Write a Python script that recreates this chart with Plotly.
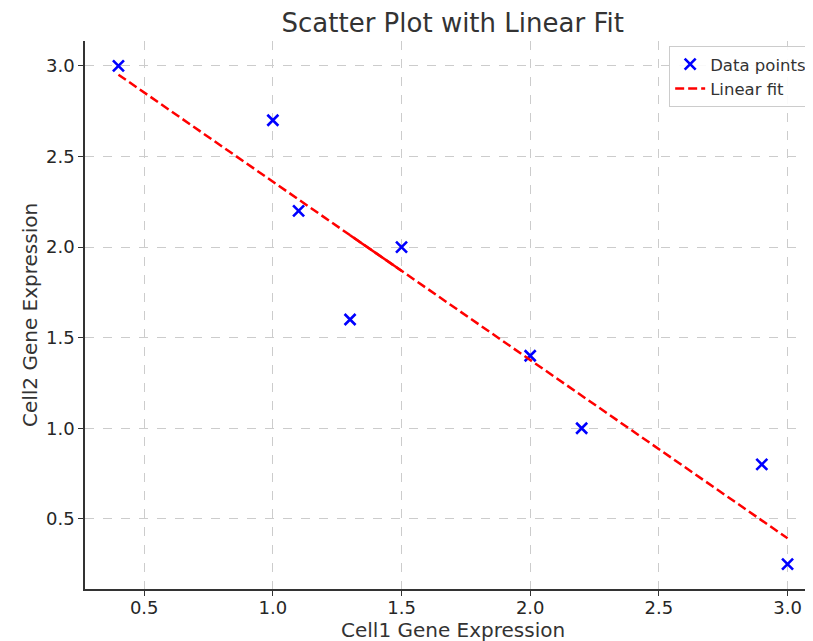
import numpy as np
import plotly.graph_objects as go

# Data (order as plotted)
cell1 = [0.4, 1.0, 1.1, 1.5, 1.3, 2.0, 2.2, 2.9, 3.0]
cell2 = [3.0, 2.7, 2.2, 2.0, 1.6, 1.4, 1.0, 0.8, 0.25]
x_ticks = [0.5, 1.0, 1.5, 2.0, 2.5, 3.0]
y_ticks = [0.5, 1.0, 1.5, 2.0, 2.5, 3.0]

slope, intercept = np.polyfit(cell1, cell2, 1)
fit_y = [slope * v + intercept for v in cell1]
# the back-tracked part of the fit path (between x=1.3 and 1.5) renders solid
overlap_x = [cell1[4], cell1[3]]
overlap_y = [slope * v + intercept for v in overlap_x]

fig = go.Figure()
fig.add_trace(go.Scatter(
    x=cell1, y=cell2, mode="markers", name="Data points",
    marker=dict(symbol="x-thin", size=11, color="blue",
                line=dict(color="blue", width=2.6)),
))
fig.add_trace(go.Scatter(
    x=cell1, y=fit_y, mode="lines", name="Linear fit",
    line=dict(color="red", width=2.5, dash="9px,4px"),
))
fig.add_trace(go.Scatter(
    x=overlap_x, y=overlap_y, mode="lines", showlegend=False, hoverinfo="skip",
    line=dict(color="red", width=2.5),
))

font_family = "DejaVu Sans"
txt = "#333333"
fig.update_layout(
    width=813, height=641,
    margin=dict(l=77, r=0, t=33, b=60),
    paper_bgcolor="white", plot_bgcolor="white",
    font=dict(family=font_family, color=txt),
    title=dict(text="Scatter Plot with Linear Fit", x=0.547, xanchor="center",
               y=0.977, yanchor="middle", xref="container",
               font=dict(size=26, color=txt)),
    legend=dict(x=0.988, y=0.991, xanchor="right", yanchor="top",
                bgcolor="rgba(255,255,255,0.9)", bordercolor="#cccccc",
                borderwidth=1, font=dict(size=16.5, color=txt),
                itemwidth=30, tracegroupgap=2),
    showlegend=True,
    annotations=[
        dict(text="Cell1 Gene Expression", xref="paper", yref="paper",
             x=0.5, y=-0.0752, xanchor="center", yanchor="middle",
             showarrow=False, font=dict(size=20, color=txt)),
        dict(text="Cell2 Gene Expression", xref="paper", yref="paper",
             x=-0.0747, y=0.5, xanchor="center", yanchor="middle",
             textangle=-90, showarrow=False, font=dict(size=20, color=txt)),
    ],
)
fig.update_xaxes(
    range=[0.27, 3.13], tickvals=x_ticks, ticktext=[f"{v:.1f}" for v in x_ticks],
    showline=True, linecolor="#333333", linewidth=1.5, mirror=False,
    ticks="outside", ticklen=5, tickcolor="#333333", tickwidth=1.2,
    showgrid=True, gridcolor="#cccccc", griddash="dash", gridwidth=1,
    zeroline=False, tickfont=dict(size=18, color="#262626"), automargin=False,
    ticklabelstandoff=-3,
)
fig.update_yaxes(
    range=[0.1125, 3.1375], tickvals=y_ticks, ticktext=[f"{v:.1f}" for v in y_ticks],
    showline=True, linecolor="#333333", linewidth=1.5, mirror=False,
    ticks="outside", ticklen=5, tickcolor="#333333", tickwidth=1.2,
    showgrid=True, gridcolor="#cccccc", griddash="dash", gridwidth=1,
    zeroline=False, tickfont=dict(size=18, color="#262626"), automargin=False,
)

fig.write_html("out.html")
